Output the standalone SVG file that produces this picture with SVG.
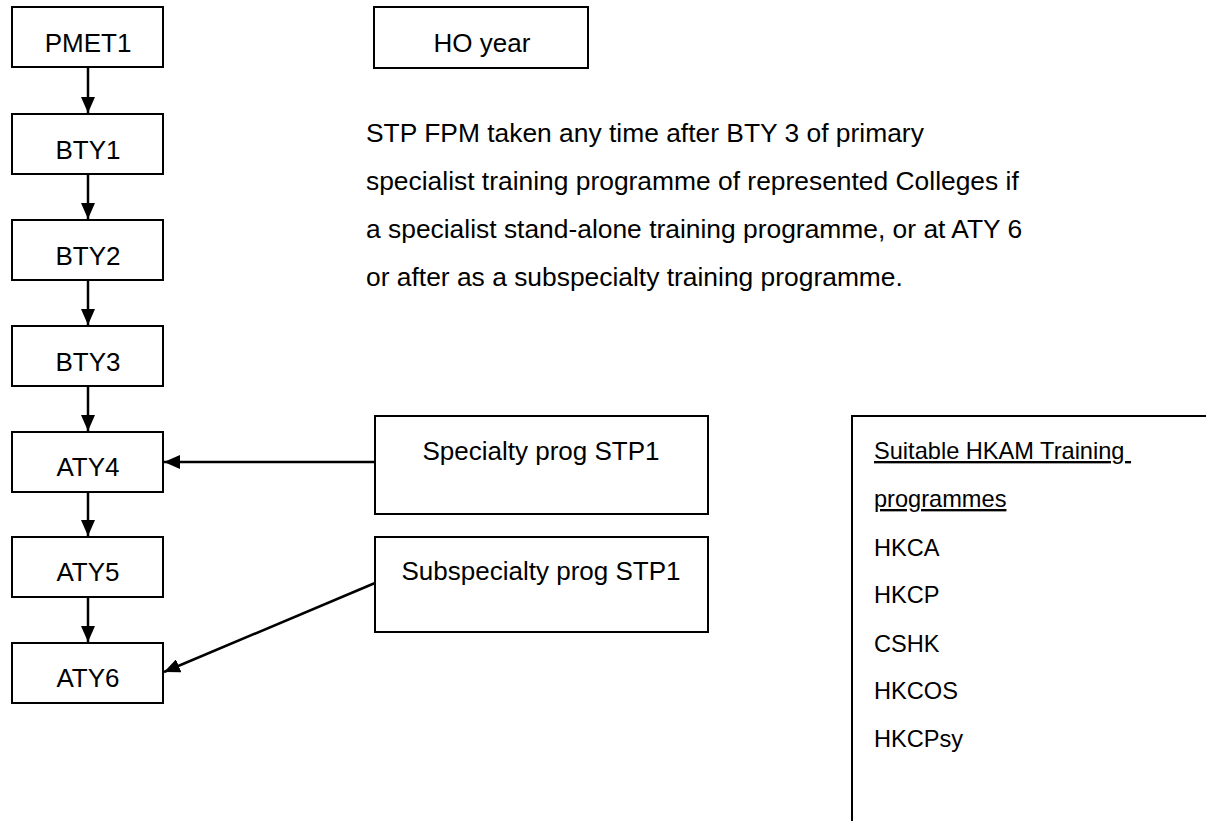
<svg xmlns="http://www.w3.org/2000/svg" width="1206" height="821" viewBox="0 0 1206 821">
<style>
.box{fill:#fff;stroke:#000;stroke-width:2}
.t{font-family:"Liberation Sans",Arial,sans-serif;font-size:26px;fill:#000}
.c{text-anchor:middle}
.p{font-size:26.4px}
.s{font-size:23.6px;white-space:pre}
.edge{stroke:#000;stroke-width:2.5;fill:none}
</style>
<defs>
<marker id="ah" viewBox="0 0 16 14" refX="16" refY="7" markerWidth="16" markerHeight="14" orient="auto" markerUnits="userSpaceOnUse"><path d="M0,0 L16,7 L0,14 z" fill="#000"/></marker>
</defs>
<rect width="1206" height="821" fill="#fff"/>
<g id="connectors">
<line class="edge" x1="88" y1="67" x2="88" y2="113" marker-end="url(#ah)"/>
<line class="edge" x1="88" y1="174" x2="88" y2="219" marker-end="url(#ah)"/>
<line class="edge" x1="88" y1="280" x2="88" y2="325" marker-end="url(#ah)"/>
<line class="edge" x1="88" y1="386" x2="88" y2="431" marker-end="url(#ah)"/>
<line class="edge" x1="88" y1="492" x2="88" y2="536" marker-end="url(#ah)"/>
<line class="edge" x1="88" y1="597" x2="88" y2="642" marker-end="url(#ah)"/>
<line class="edge" x1="375" y1="462" x2="164" y2="462" marker-end="url(#ah)"/>
<line class="edge" x1="375" y1="583" x2="164" y2="672" marker-end="url(#ah)"/>
</g>
<g id="PMET1"><rect class="box" x="12" y="7" width="151" height="60"/><text class="t c" x="88" y="52">PMET1</text></g>
<g id="BTY1"><rect class="box" x="12" y="114" width="151" height="60"/><text class="t c" x="88" y="159">BTY1</text></g>
<g id="BTY2"><rect class="box" x="12" y="220" width="151" height="60"/><text class="t c" x="88" y="265">BTY2</text></g>
<g id="BTY3"><rect class="box" x="12" y="326" width="151" height="60"/><text class="t c" x="88" y="371">BTY3</text></g>
<g id="ATY4"><rect class="box" x="12" y="432" width="151" height="60"/><text class="t c" x="88" y="476">ATY4</text></g>
<g id="ATY5"><rect class="box" x="12" y="537" width="151" height="60"/><text class="t c" x="88" y="581">ATY5</text></g>
<g id="ATY6"><rect class="box" x="12" y="643" width="151" height="60"/><text class="t c" x="88" y="687">ATY6</text></g>
<g id="HOyear"><rect class="box" x="374" y="7" width="214" height="61"/><text class="t c" x="482" y="52">HO year</text></g>
<g id="note">
<text class="t p" x="366" y="142">STP FPM taken any time after BTY 3 of primary</text>
<text class="t p" x="366" y="190">specialist training programme of represented Colleges if</text>
<text class="t p" x="366" y="238">a specialist stand-alone training programme, or at ATY 6</text>
<text class="t p" x="366" y="286">or after as a subspecialty training programme.</text>
</g>
<g id="Specialty"><rect class="box" x="375" y="416" width="333" height="98"/><text class="t c" x="541" y="460">Specialty prog STP1</text></g>
<g id="Subspecialty"><rect class="box" x="375" y="537" width="333" height="95"/><text class="t c" x="541" y="580">Subspecialty prog STP1</text></g>
<g id="Suitable">
<rect class="box" x="852" y="416" width="400" height="450"/>
<text class="t s" x="874" y="459" text-decoration="underline" xml:space="preserve">Suitable HKAM Training </text>
<text class="t s" x="874" y="507" text-decoration="underline">programmes</text>
<text class="t s" x="874" y="556">HKCA</text>
<text class="t s" x="874" y="603">HKCP</text>
<text class="t s" x="874" y="652">CSHK</text>
<text class="t s" x="874" y="699">HKCOS</text>
<text class="t s" x="874" y="747">HKCPsy</text>
</g>
</svg>
